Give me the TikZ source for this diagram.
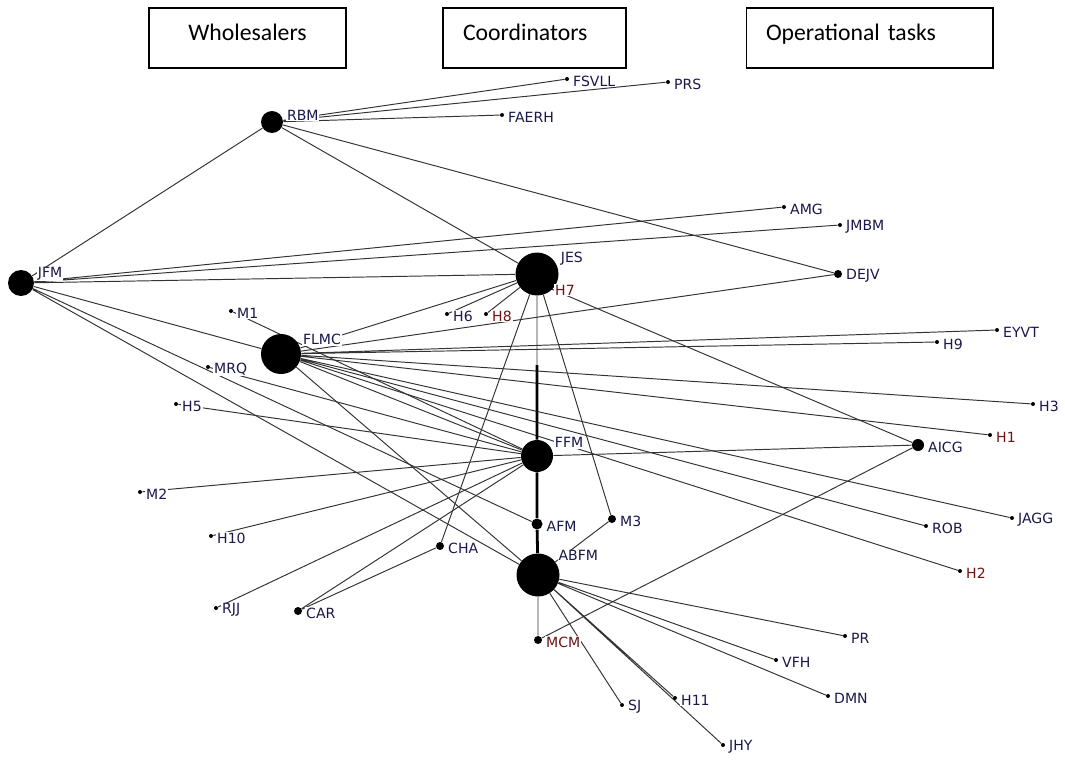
\documentclass[tikz,border=0pt]{standalone}
\usepackage{fontspec}
\usetikzlibrary{backgrounds}
\newfontfamily\titlefont{Carlito}
\newfontfamily\lblfont{DejaVu Sans}
\definecolor{lblblue}{RGB}{25,25,75}
\definecolor{lblred}{RGB}{110,20,20}
\tikzset{
  actor/.style={circle,fill=black,inner sep=0pt,minimum size=#1},
  actor/.default=0.08cm,
  lbl/.style={font=\lblfont\fontsize{8}{9}\selectfont,text=lblblue,fill=white,inner sep=0.5pt,yshift=-1.2pt},
  hlbl/.style={lbl,text=lblred},
  tie/.style={black!80,line width=0.55pt},
  strongtie/.style={black,line width=1.6pt},
  titlebox/.style={draw,line width=0.6pt,font=\titlefont\fontsize{13.5}{16}\selectfont,
    minimum height=1.2cm,inner xsep=0.4cm,text width=#1,text depth=0.21cm,align=left}
}
\begin{document}
\begin{tikzpicture}[x=0.02cm,y=-0.02cm,label distance=1.5pt]
\useasboundingbox (0,0) rectangle (1065,761);
% role boxes
\node[titlebox=3.14cm,align=center] (whl) at (247.5,38) {Wholesalers};
\node[titlebox=2.86cm] (crd) at (534.5,38) {Coordinators};
\node[titlebox=4.14cm] (opt) at (869.5,38) {Operational tasks};

% actors
\node[actor=0.44cm,label={[lbl]10:RBM}] (RBM) at (272,122) {};
\node[actor,label={[lbl]right:FSVLL}] (FSVLL) at (567,79) {};
\node[actor,label={[lbl]right:PRS}] (PRS) at (668,82) {};
\node[actor,label={[lbl]right:FAERH}] (FAERH) at (502,115) {};
\node[actor=0.52cm,label={[lbl]12:JFM}] (JFM) at (21,283) {};
\node[actor,label={[lbl]right:AMG}] (AMG) at (784,207) {};
\node[actor,label={[lbl]right:JMBM}] (JMBM) at (840,225) {};
\node[actor=0.86cm,label={[lbl]22:JES}] (JES) at (537,274) {};
\node[actor,label={[hlbl]right:H7}] (H7) at (549,288) {};
\node[actor=0.16cm,label={[lbl]right:DEJV}] (DEJV) at (838,274) {};
\node[actor,label={[lbl]right:H6}] (H6) at (447,314) {};
\node[actor,label={[hlbl]right:H8}] (H8) at (486,314) {};
\node[actor,label={[lbl]right:M1}] (M1) at (231,311) {};
\node[actor=0.8cm,label={[lbl]25:FLMC}] (FLMC) at (281,354) {};
\node[actor,label={[lbl]right:EYVT}] (EYVT) at (997,330) {};
\node[actor,label={[lbl]right:H9}] (H9) at (937,342) {};
\node[actor,label={[lbl]right:MRQ}] (MRQ) at (208,367) {};
\node[actor,label={[lbl]right:H5}] (H5) at (176,404) {};
\node[actor,label={[lbl]right:H3}] (H3) at (1033,404) {};
\node[actor,label={[hlbl]right:H1}] (H1) at (990,435) {};
\node[actor=0.64cm,label={[lbl]28:FFM}] (FFM) at (537,456) {};
\node[actor=0.24cm,label={[lbl]right:AICG}] (AICG) at (918,445) {};
\node[actor,label={[lbl]right:M2}] (M2) at (140,492) {};
\node[actor=0.22cm,label={[lbl]right:AFM}] (AFM) at (537,524) {};
\node[actor=0.16cm,label={[lbl]right:M3}] (M3) at (612,519) {};
\node[actor,label={[lbl]right:JAGG}] (JAGG) at (1012,518) {};
\node[actor,label={[lbl]right:ROB}] (ROB) at (926,526) {};
\node[actor,label={[lbl]right:H10}] (H10) at (211,536) {};
\node[actor=0.16cm,label={[lbl]right:CHA}] (CHA) at (440,546) {};
\node[actor=0.86cm,label={[lbl]38:ABFM}] (ABFM) at (538,575) {};
\node[actor,label={[hlbl]right:H2}] (H2) at (960,571) {};
\node[actor,label={[lbl]right:RJJ}] (RJJ) at (216,608) {};
\node[actor=0.16cm,label={[lbl]right:CAR}] (CAR) at (298,611) {};
\node[actor=0.16cm,label={[hlbl]right:MCM}] (MCM) at (538,640) {};
\node[actor,label={[lbl]right:PR}] (PR) at (845,636) {};
\node[actor,label={[lbl]right:VFH}] (VFH) at (776,660) {};
\node[actor,label={[lbl]right:DMN}] (DMN) at (828,696) {};
\node[actor,label={[lbl]right:SJ}] (SJ) at (622,705) {};
\node[actor,label={[lbl]right:H11}] (H11) at (675,698) {};
\node[actor,label={[lbl]right:JHY}] (JHY) at (723,745) {};

% ties
\begin{scope}[on background layer]
\draw[tie] (RBM) -- (FSVLL) (RBM) -- (PRS) (RBM) -- (FAERH) (RBM) -- (JFM) (RBM) -- (JES) (RBM) -- (DEJV);
\draw[tie] (JFM) -- (AMG) (JFM) -- (JMBM) (JFM) -- (JES) (JFM) -- (FLMC) (JFM) -- (AFM) (JFM) -- (ABFM);
\draw[tie] (JES) -- (H6) (JES) -- (H8) (JES) -- (FLMC) (JES) -- (FFM) (JES) -- (CHA) (JES) -- (M3);
\draw[tie] (H7) -- (AICG);
\draw[tie] (FLMC) -- (DEJV) (FLMC) -- (EYVT) (FLMC) -- (H9) (FLMC) -- (H3) (FLMC) -- (H1) (FLMC) -- (JAGG) (FLMC) -- (ROB) (FLMC) -- (H2) (FLMC) -- (FFM) (FLMC) -- (ABFM);
\draw[tie] (FFM) -- (M1) (FFM) -- (MRQ) (FFM) -- (H5) (FFM) -- (M2) (FFM) -- (H10) (FFM) -- (RJJ) (FFM) -- (CAR) (FFM) -- (AICG);
\draw[tie] (CAR) -- (CHA);
\draw[tie] (ABFM) -- (M3) (ABFM) -- (MCM) (ABFM) -- (SJ) (ABFM) -- (H11) (ABFM) -- (JHY) (ABFM) -- (PR) (ABFM) -- (VFH) (ABFM) -- (DMN);
\draw[tie] (MCM) -- (AICG);
\coordinate (jesmid) at (537,365);
\draw[strongtie] (jesmid) -- (FFM) -- (AFM) -- (ABFM);
\end{scope}
\end{tikzpicture}
\end{document}
